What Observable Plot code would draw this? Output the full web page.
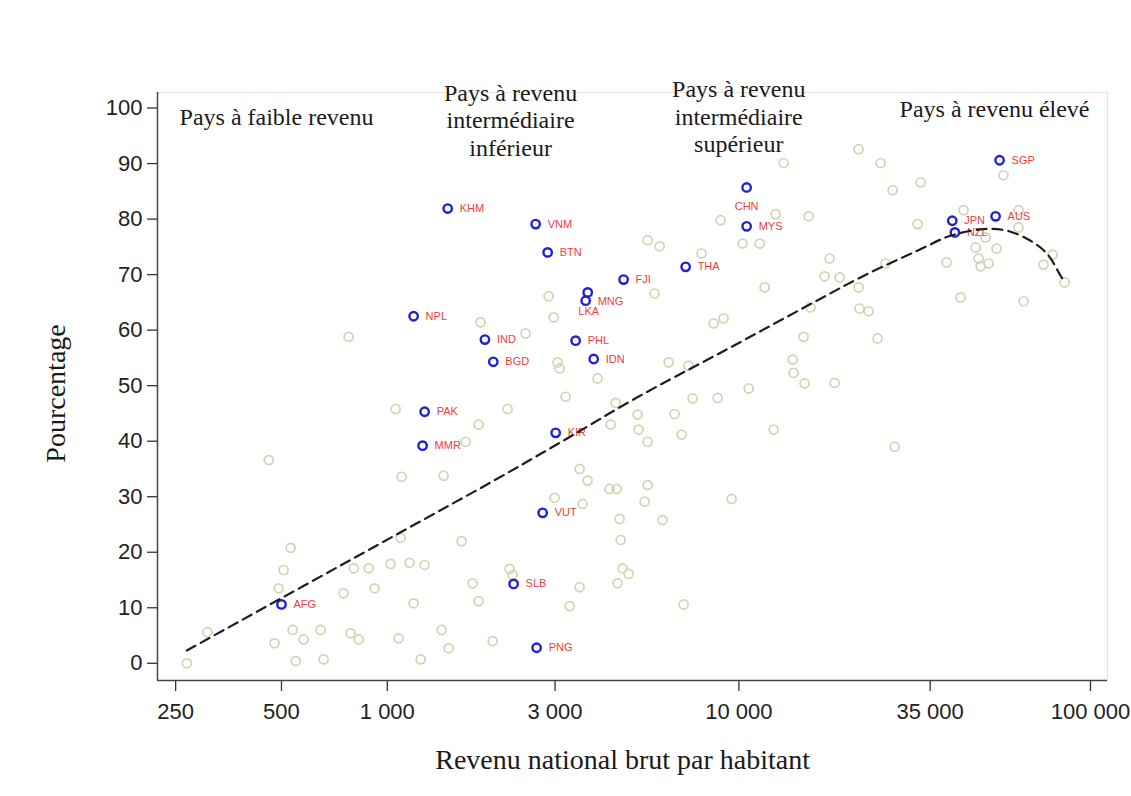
<!DOCTYPE html>
<html><head><meta charset="utf-8">
<script src="https://cdn.jsdelivr.net/npm/d3@7"></script>
<script src="https://cdn.jsdelivr.net/npm/@observablehq/plot@0.6"></script>
<style>body{margin:0;background:#fff}</style>
</head><body><div id="chart"></div>
<script>
// Other countries (khaki circles): GNI per capita and percentage
const otherGni = [269,308,478,491,507,531,460,538,549,578,646,659,751,786,829,776,802,885,920,1022,
  1157,1277,1091,1188,1077,1056,1098,1446,1627,1427,1494,1244,1670,1818,1748,1818,1993,1842,2474,2199,
  2228,2876,2972,3050,3091,3215,3965,2991,3524,3713,3594,4289,4490,5501,5394,4579,6067,4609,4670,4857,
  4519,3524,3301,6963,9535,4317,4461,5151,5185,5501,6564,6872,7386,8700,10660,12560,6311,7194,8476,9046,
  5759,5501,5951,7834,8872,10250,11460,11840,12720,13410,15790,15280,15990,14220,14310,15380,18720,18120,17530,19340,
  21890,22040,23380,24800,21890,25290,27360,32870,32230,26140,38960,43550,42700,56590,50290,47120,54060,48060,51310,48690,
  62440,62440,64520,78030,73560,84400,27730,2272];
const otherPct = [0.0,5.6,3.6,13.5,16.8,20.8,36.6,6.0,0.4,4.3,6.0,0.7,12.6,5.4,4.3,58.8,17.1,17.1,13.5,17.9,
  18.1,17.7,22.6,10.8,4.5,45.8,33.6,33.8,22.0,6.0,2.7,0.7,39.9,43.0,14.4,11.2,4.0,61.4,59.4,45.8,
  17.0,66.1,62.3,54.2,53.1,48.0,51.3,29.8,35.0,32.9,28.7,31.4,31.4,32.1,29.1,26.0,25.8,22.2,17.1,16.1,
  14.4,13.7,10.3,10.6,29.6,43.0,46.9,44.8,42.1,39.9,44.9,41.2,47.7,47.8,49.5,42.1,54.2,53.6,61.2,62.1,
  66.6,76.2,75.1,73.8,79.8,75.6,75.6,67.7,80.9,90.1,80.5,58.8,64.1,54.7,52.3,50.4,50.5,72.9,69.7,69.5,
  67.7,63.9,63.4,58.5,92.6,90.1,85.2,86.6,79.1,72.0,72.2,81.6,65.9,87.9,76.7,74.9,74.7,72.9,72.0,71.5,
  78.5,81.6,65.2,73.6,71.8,68.6,39.0,15.9];

// Highlighted countries (blue circles with red codes)
const labelCodes = ["KHM","VNM","BTN","FJI","MNG","LKA","THA","CHN","MYS","NPL","IND","BGD","PHL","IDN",
  "PAK","MMR","KIR","VUT","SLB","PNG","AFG","SGP","JPN","NZL","AUS"];
const labelGni = [1485,2642,2858,4700,3715,3666,7056,10520,10520,1188,1895,2002,3433,3864,
  1277,1260,3012,2766,2287,2659,500,55140,40450,41150,53720];
const labelPct = [81.9,79.1,74.0,69.1,66.8,65.3,71.4,85.7,78.7,62.5,58.3,54.3,58.1,54.8,
  45.3,39.2,41.5,27.1,14.3,2.8,10.6,90.6,79.7,77.6,80.5];

// Fitted trend (dashed)
const trendGni = [269,1091,2010,3111,5141,9472,15995,22675,32170,40010,49760,58000,67540,75390,82220,84400];
const trendPct = [2.3,23.6,32.9,39.8,47.9,56.9,64.7,69.8,74.3,77.0,78.2,77.9,76.1,73.7,69.8,68.7];

// Axis ticks
const xTicks = [250,500,1000,3000,10000,35000,100000];
const yTicks = [0,10,20,30,40,50,60,70,80,90,100];

// Income group annotations
const groupLabels = ["Pays à faible revenu","Pays à revenu\nintermédiaire\ninférieur","Pays à revenu\nintermédiaire\nsupérieur","Pays à revenu élevé"];
const groupGni = [484,2242,9991,53360];
const groupPct = [97.0,91.4,92.0,98.3];

const xTitle = "Revenu national brut par habitant";
const yTitle = "Pourcentage";

const fr = d3.formatLocale({decimal: ",", thousands: " ", grouping: [3], currency: ["", ""]});
const fmt = fr.format(",");

const xDomain = [222, 111800];
const yDomain = [-3.1, 102.8];

const otherIdx = d3.range(otherGni.length);
const special = new Set(["CHN", "LKA", "MNG"]);
const idxRight = d3.range(labelCodes.length).filter(i => !special.has(labelCodes[i]));
const idxAll = d3.range(labelCodes.length);
const idxOf = c => [labelCodes.indexOf(c)];

const serif = "'Liberation Serif', 'Times New Roman', serif";
const sans = "'Liberation Sans', Arial, sans-serif";
const red = "#e8413c";
const lbl = (idx, o) => Plot.text(idx, {x: i => labelGni[i], y: i => labelPct[i], text: i => labelCodes[i],
  fill: red, fontSize: 11, fontFamily: sans, ...o});

const chart = Plot.plot({
  width: 1131, height: 796,
  marginLeft: 157, marginRight: 24, marginTop: 92, marginBottom: 116,
  style: {fontFamily: sans, background: "#fff", overflow: "visible"},
  x: {type: "log", domain: xDomain},
  y: {domain: yDomain},
  marks: [
    Plot.frame({stroke: "#e4e4e4"}),
    Plot.axisX(xTicks, {tickSize: 11, fill: "none", stroke: "#333", strokeWidth: 1.3, label: null}),
    Plot.text(xTicks, {x: d => d, y: yDomain[0], text: d => fmt(d), dy: 23, lineAnchor: "top",
      fontSize: 22, fontFamily: sans, fill: "#222"}),
    Plot.axisY(yTicks, {tickSize: 10, tickPadding: 5, fontSize: 22, fill: "#222", stroke: "#333", strokeWidth: 1.3, label: null}),
    Plot.ruleX([xDomain[0]], {stroke: "#444", strokeWidth: 1.5}),
    Plot.ruleY([yDomain[0]], {stroke: "#444", strokeWidth: 1.5}),
    Plot.dot(otherIdx, {x: i => otherGni[i], y: i => otherPct[i], r: 4.5, stroke: "#d5d2b0", strokeWidth: 1.7, fill: "none"}),
    Plot.dot(idxAll, {x: i => labelGni[i], y: i => labelPct[i], r: 4.2, stroke: "#2121d4", strokeWidth: 2.4, fill: "none"}),
    lbl(idxRight, {textAnchor: "start", dx: 12}),
    lbl(idxOf("CHN"), {textAnchor: "middle", dy: 19}),
    lbl(idxOf("LKA"), {textAnchor: "middle", dx: 3, dy: 11}),
    lbl(idxOf("MNG"), {textAnchor: "start", dx: 10, dy: 9}),
    Plot.line(d3.range(trendGni.length), {x: i => trendGni[i], y: i => trendPct[i], curve: "catmull-rom",
      stroke: "#1e1e1e", strokeWidth: 2.2, strokeDasharray: "10,6"}),
    Plot.text(groupLabels, {x: (d, i) => groupGni[i], y: (d, i) => groupPct[i], text: d => d,
      lineAnchor: "bottom", lineHeight: 1.15, textAnchor: "middle", fontSize: 24, fontFamily: serif, fill: "#1a1a1a"}),
    Plot.text([xTitle], {x: 4670, y: -19, text: d => d, lineAnchor: "bottom", fontSize: 28, fontFamily: serif, fill: "#1a1a1a"}),
    Plot.text([yTitle], {x: 114, y: 48.6, text: d => d, rotate: -90, fontSize: 28, fontFamily: serif, fill: "#1a1a1a"})
  ]
});
document.getElementById("chart").appendChild(chart);
</script>
</body></html>
